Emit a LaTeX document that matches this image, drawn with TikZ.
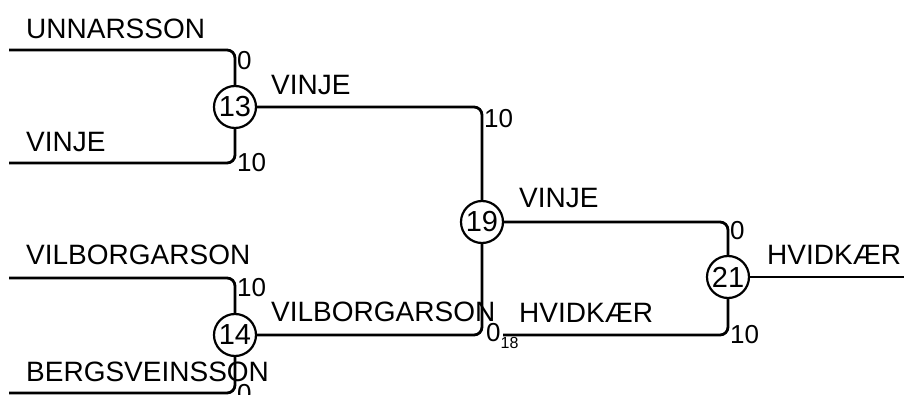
\documentclass[tikz,border=0pt]{standalone}
\usepackage{fontspec}
\setmainfont{Liberation Sans}
\usetikzlibrary{positioning}

\begin{document}
\begin{tikzpicture}[
    x=1pt, y=-1pt,
    wire/.style={line width=2.8pt, rounded corners=8pt},
    match/.style={draw, circle, line width=2.2pt, minimum size=42pt, inner sep=0pt, fill=white, font=\fontsize{29}{29}\selectfont},
    team/.style={anchor=base west, inner sep=0pt, font=\fontsize{28}{30}\selectfont},
    score/.style={anchor=base west, inner sep=0pt, font=\fontsize{26}{28}\selectfont}
]
\useasboundingbox (0,0) rectangle (914,395);
% matches
\node[match] (m13) at (235,107) {13};
\node[match] (m14) at (235,335) {14};
\node[match] (m19) at (482,222) {19};
\node[match] (m21) at (728,277) {21};
% free ends
\coordinate (unn) at (9,50);
\coordinate (vin) at (9,163);
\coordinate (vil) at (9,278);
\coordinate (ber) at (9,393);
\coordinate (hvi) at (503,335);
\coordinate (fin) at (904,277);
% lines
\draw[wire] (unn) -| (m13);
\draw[wire] (vin) -| (m13);
\draw[wire] (vil) -| (m14);
\draw[wire] (ber) -| (m14);
\draw[wire] (m13) -| (m19);
\draw[wire] (m14) -| (m19);
\draw[wire] (m19) -| (m21);
\draw[wire] (hvi) -| (m21);
\draw[wire] (m21) -- (fin);
% names
\node[team] (tunn) at (26,39) {UNNARSSON};
\node[team] (tvin) at (26,152) {VINJE};
\node[team] (tvil) at (26,265) {VILBORGARSON};
\node[team] (tber) at (26,382) {BERGSVEINSSON};
\node[team] (t13) at (271,95) {VINJE};
\node[team] (t14) at (271,322) {VILBORGARSON};
\node[team] (t19) at (519,208) {VINJE};
\node[team] (thvi) at (519,323) {HVIDKÆR};
\node[team] (t21) at (767,265) {HVIDKÆR};
% scores
\node[score] (sunn) at (237,70) {0};
\node[score] (svin) at (237,172) {10};
\node[score] (svil) at (237,297) {10};
\node[score] (sber) at (237,403) {0};
\node[score] (s13) at (484,128) {10};
\node[score] (s14) at (486,342) {0\raisebox{-7pt}{\fontsize{16}{16}\selectfont 18}};
\node[score] (s19) at (730,240) {0};
\node[score] (shvi) at (730,344) {10};
\end{tikzpicture}
\end{document}
